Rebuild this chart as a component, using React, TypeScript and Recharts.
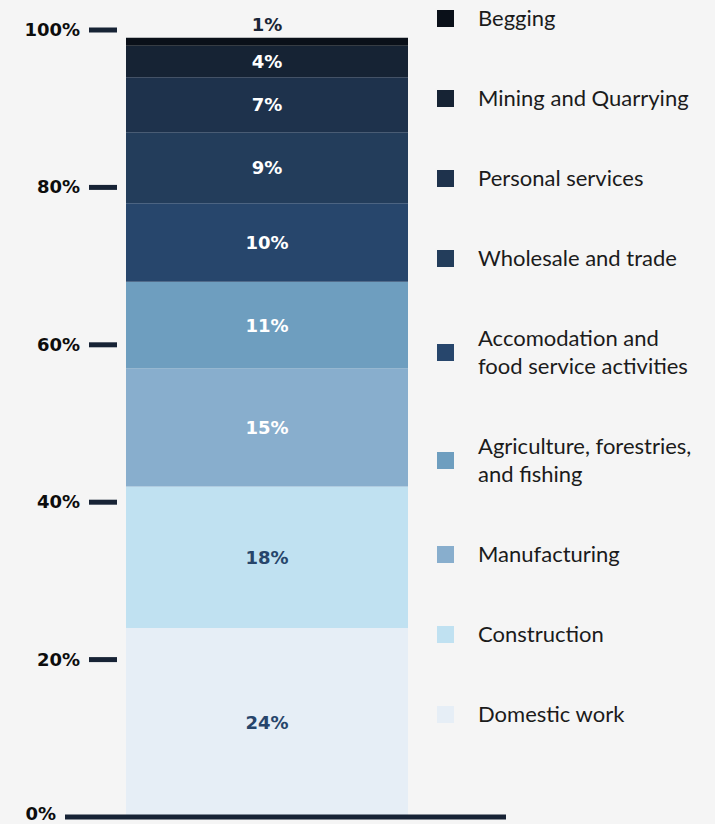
import React from 'react';
import { BarChart, Bar, XAxis, YAxis, Legend, LabelList, ReferenceLine } from 'recharts';

// bottom to top of the stack
const sectors = [
  'Domestic work',
  'Construction',
  'Manufacturing',
  'Agriculture, forestries, and fishing',
  'Accomodation and food service activities',
  'Wholesale and trade',
  'Personal services',
  'Mining and Quarrying',
  'Begging',
];
const shares = [24, 18, 15, 11, 10, 9, 7, 4, 1];
const fills = [
  '#e6eef6',
  '#c0e1f1',
  '#88aecd',
  '#6e9ebf',
  '#27466c',
  '#233d5b',
  '#1e324c',
  '#162334',
  '#0a1019',
];
const labelFills = ['#27456b', '#27456b', '#fff', '#fff', '#fff', '#fff', '#fff', '#fff', '#1a2638'];
const yTicks = [0, 20, 40, 60, 80, 100];

const row: Record<string, string | number> = { name: 'sectors' };
shares.forEach((v, i) => {
  row[`s${i}`] = v;
});
const data = [row];

const NAVY = '#172335';

function YTick(props: any) {
  const { x, y, payload } = props;
  const zero = payload.value === 0;
  const len = zero ? 52 : 28;
  return (
    <g>
      <line x1={x - len} x2={x} y1={y} y2={y} stroke={NAVY} strokeWidth={5} />
      <text
        x={x - len - 9}
        y={y}
        dy={zero ? 3 : 6}
        textAnchor="end"
        fontFamily="'DejaVu Sans', sans-serif"
        fontWeight="bold"
        fontSize={18}
        fill="#0d0d0d"
      >
        {payload.value}%
      </text>
    </g>
  );
}

function SectorLegend() {
  const order = sectors.map((_, i) => i).reverse();
  return (
    <div style={{ fontFamily: 'Lato, sans-serif', fontSize: 22, lineHeight: '28px', color: '#1b1b1b' }}>
      {order.map((i) => (
        <div key={i} style={{ display: 'flex', alignItems: 'center', padding: '26px 0' }}>
          <span style={{ width: 17, height: 17, background: fills[i], flex: 'none', marginRight: 24 }} />
          <span style={{ width: 220 }}>{sectors[i]}</span>
        </div>
      ))}
    </div>
  );
}

export default function App() {
  return (
    <div style={{ position: 'absolute', left: 0, top: 0, width: 715, height: 824, background: '#f5f5f5', overflow: 'hidden' }}>
      <BarChart
        width={715}
        height={824}
        data={data}
        margin={{ top: 30, right: 209, bottom: 7, left: 0 }}
        barCategoryGap="0%"
        style={{ overflow: 'visible' }}
      >
        <XAxis dataKey="name" hide height={0} padding={{ left: 9, right: 98 }} />
        <YAxis
          width={117}
          domain={[0, 100]}
          ticks={yTicks}
          interval={0}
          tickSize={0}
          tickMargin={0}
          axisLine={false}
          tickLine={false}
          tick={<YTick />}
        />
        <Legend
          layout="horizontal"
          verticalAlign="middle"
          align="center"
          wrapperStyle={{ top: -22, left: 437, width: 278, height: 850 }}
          content={() => <SectorLegend />}
        />
        {shares.map((_, i) => (
          <Bar key={i} dataKey={`s${i}`} stackId="a" fill={fills[i]} isAnimationActive={false}>
            <LabelList
              dataKey={`s${i}`}
              position={i === shares.length - 1 ? 'top' : 'center'}
              offset={7}
              formatter={(v: any) => `${v}%`}
              fill={labelFills[i]}
              fontFamily="'DejaVu Sans', sans-serif"
              fontWeight="bold"
              fontSize={18}
            />
          </Bar>
        ))}
        <ReferenceLine y={0} stroke={NAVY} strokeWidth={5} />
      </BarChart>
    </div>
  );
}
